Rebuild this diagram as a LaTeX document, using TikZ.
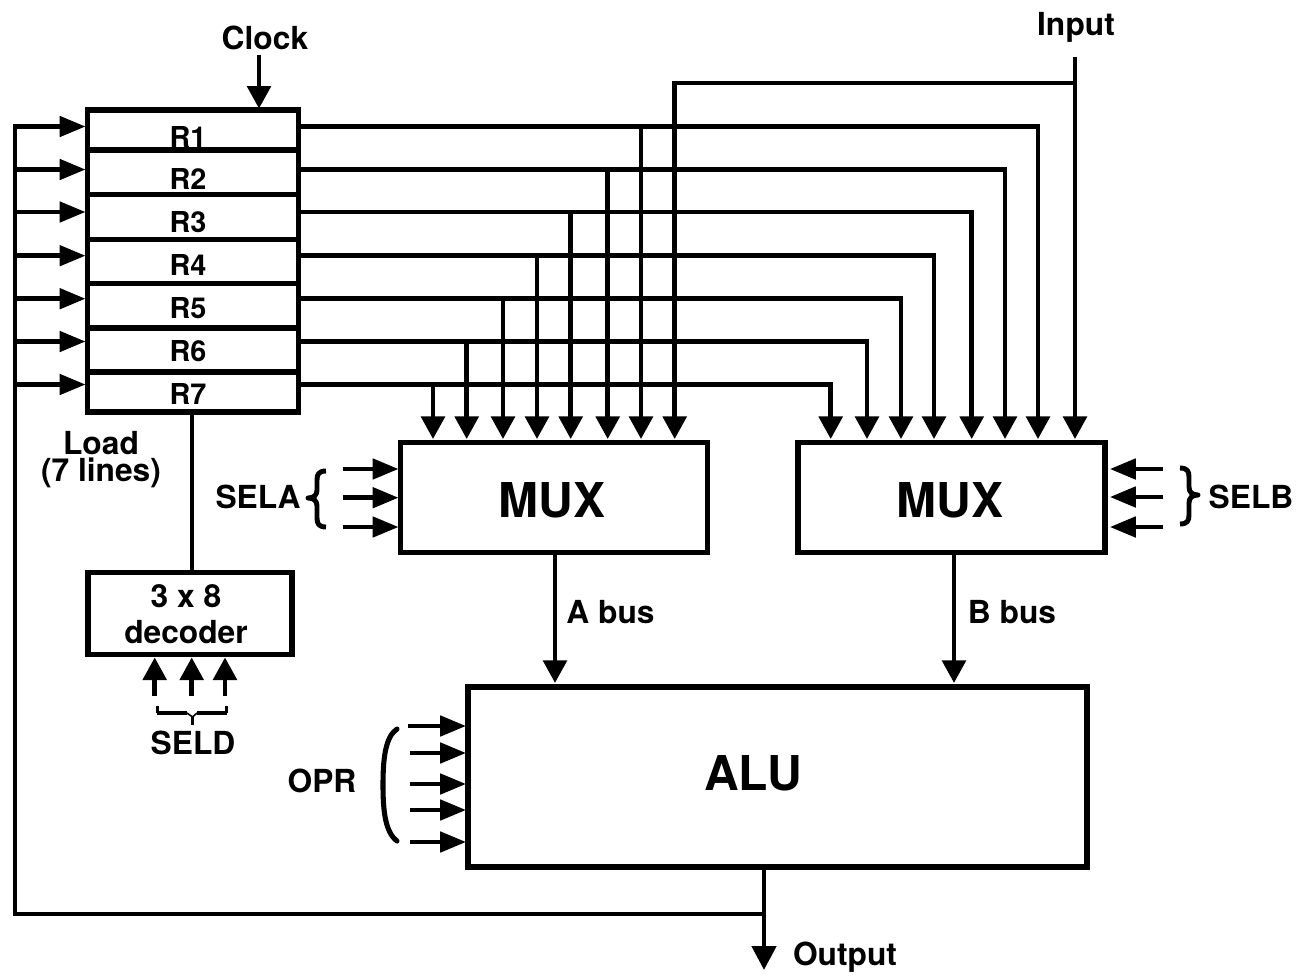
\documentclass[tikz,border=0pt]{standalone}
\usepackage{fontspec}
\setmainfont{TeX Gyre Heros}
\usetikzlibrary{arrows.meta}
\tikzset{
  wire/.style={line width=3.6pt,line cap=butt,line join=miter},
  hwire/.style={wire,-{Triangle[length=19.5pt,width=15pt]},shorten >=1.4pt},
  vwire/.style={wire,-{Triangle[length=17pt,width=17.5pt]},shorten >=2.2pt},
  box/.style={draw,line width=3.9pt,fill=none,inner sep=0pt,outer sep=0pt},
  lbl/.style={inner sep=0pt,outer sep=0pt,font=\fontsize{23.8pt}{20.2pt}\selectfont\bfseries},
  reglbl/.style={inner sep=0pt,outer sep=0pt,font=\fontsize{21.6pt}{24pt}\selectfont\bfseries},
  biglbl/.style={inner sep=0pt,outer sep=0pt,font=\fontsize{36pt}{38pt}\selectfont\bfseries},
  brace/.style={line width=3.7pt,line cap=butt,line join=round}
}
\begin{document}
\begin{tikzpicture}[x=0.75pt,y=-0.75pt]
\useasboundingbox (0,0) rectangle (1296,975);
% register file
\foreach \i/\a/\b/\ty/\oy in {1/110/150/137/126.5,2/150/194.7/179/169.5,3/194.7/239.7/222/212,4/239.7/283.7/265/255.7,5/283.7/328/308/298.7,6/328/372/351/341.5,7/372/412/394/384.5}{
  \node[box,minimum width=158.25pt,minimum height={(\b-\a)*0.75pt}] (r\i) at (193,{(\a+\b)/2}) {};
  \node[reglbl] (t\i) at (188,\ty) {R\i};
  \coordinate (o\i) at (298.5,\oy);
  \coordinate (l\i) at (13,\oy);
}
% mux and alu
\node[box,minimum width=230.25pt,minimum height=82.5pt] (muxa) at (554,497.5) {};
\node[box,minimum width=230.25pt,minimum height=82.5pt] (muxb) at (951.5,497.5) {};
\node[biglbl] (muxat) at (552,500) {MUX};
\node[biglbl] (muxbt) at (950,500) {MUX};
\node[box,minimum width=464.25pt,minimum height=135pt] (alu) at (777.5,777) {};
\node[biglbl] (alut) at (753,773) {ALU};
\node[box,minimum width=153pt,minimum height=61.5pt] (dec) at (190,613.5) {};
\node[lbl] (dect1) at (186,596) {3 x 8};
\node[lbl] (dect2) at (186,632) {decoder};
% labels
\node[lbl] (clock) at (265,38) {Clock};
\node[lbl] (input) at (1076,27) {Input};
\node[lbl,align=center] (load) at (101,460) {Load\\(7 lines)};
\node[lbl] (sela) at (258,497) {SELA};
\node[lbl] (selb) at (1251,497) {SELB};
\node[lbl] (seld) at (193,743) {SELD};
\node[lbl] (opr) at (322,781) {OPR};
\node[lbl] (abus) at (610.5,612) {A bus};
\node[lbl] (bbus) at (1012,612) {B bus};
\node[lbl] (output) at (845,957) {Output};
% coordinates on mux tops
\foreach \n/\x in {1/433,2/466.7,3/503,4/537,5/570.7,6/607.7,7/641,8/674.7}{
  \coordinate (a\n) at (\x,442);
}
\foreach \n/\x in {1/830.7,2/867,3/901,4/934,5/971.7,6/1005,7/1038,8/1075}{
  \coordinate (b\n) at (\x,442);
}
% register outputs
\foreach \r/\n in {1/7,2/6,3/5,4/4,5/3,6/2,7/1}{
  \draw[vwire] (o\r) -| (b\n);
  \draw[vwire] (o\r -| a\n) -- (a\n);
}
% input
\coordinate (intop) at (1075,57);
\coordinate (injn) at (1075,83);
\draw[vwire] (intop) -- (b8);
\draw[vwire] (injn) -| (a8);
% clock
\coordinate (clk) at (259,55);
\draw[vwire,shorten >=1pt] (clk) -- (clk |- r1.north);
% left bus
\coordinate (bustop) at (15,125);
\coordinate (busjn) at (15,914);
\coordinate (aluout) at (764,914);
\draw[wire] (bustop) -- (busjn) -- (aluout);
\foreach \i in {1,...,7}{
  \draw[hwire] (l\i) -- (l\i -| r\i.west);
}
% load line
\draw[wire] (192,412) -- (192,572.7);
% decoder inputs
\foreach \n/\x in {1/154.7,2/191.7,3/225}{
  \coordinate (ds\n) at (\x,696);
  \draw[vwire] (ds\n) -- (ds\n |- dec.south);
}
% SELD brace
\draw[line width=2pt] (157.5,706) -- (157.5,713);
\draw[line width=2pt] (226.5,706) -- (226.5,713);
\draw[line width=3.6pt] (157,713) -- (187,713);
\draw[line width=3.6pt] (197,713) -- (227,713);
\draw[line width=2.2pt] (192.5,716) -- (192.5,725);
\draw[line width=1.2pt] (187,713) -- (192.5,717) -- (197,713);
% SELA
\foreach \n/\y in {1/469,2/497.7,3/527}{
  \coordinate (sa\n) at (342.7,\y);
  \draw[hwire] (sa\n) -- (sa\n -| muxa.west);
}
\draw[brace] (326,471) .. controls (319,471) and (317,474) .. (317,480) -- (317,490)
  .. controls (317,495) and (314,498) .. (308,498)
  .. controls (314,498) and (317,501) .. (317,506) -- (317,518)
  .. controls (317,524) and (319,527) .. (326,527);
% SELB
\foreach \n/\y in {1/469,2/497,3/527}{
  \coordinate (sb\n) at (1163,\y);
  \draw[hwire,shorten >=3.6pt] (sb\n) -- (sb\n -| muxb.east);
}
\draw[brace] (1180,468) .. controls (1187,468) and (1189,471) .. (1189,477) -- (1189,487)
  .. controls (1189,492) and (1192,495) .. (1198,495)
  .. controls (1192,495) and (1189,498) .. (1189,503) -- (1189,515)
  .. controls (1189,521) and (1187,524) .. (1180,524);
% buses to ALU
\coordinate (aout) at (555,552);
\coordinate (bout) at (954,552);
\draw[vwire,shorten >=3pt] (aout) -- (aout |- alu.north);
\draw[vwire,shorten >=3pt] (bout) -- (bout |- alu.north);
% OPR
\foreach \n/\x/\y in {1/408/726,2/410/753,3/410/784,4/410/810,5/410/842}{
  \coordinate (op\n) at (\x,\y);
  \draw[hwire] (op\n) -- (op\n -| alu.west);
}
\draw[line width=3.8pt,line cap=round] (397,729) .. controls (385,737) and (383,760) .. (383,785) .. controls (383,810) and (385,832) .. (397,841);
% output
\coordinate (outend) at (764,970);
\draw[wire,-{Triangle[length=18pt,width=18pt]}] (alu.south -| outend) -- (outend);
\end{tikzpicture}
\end{document}
